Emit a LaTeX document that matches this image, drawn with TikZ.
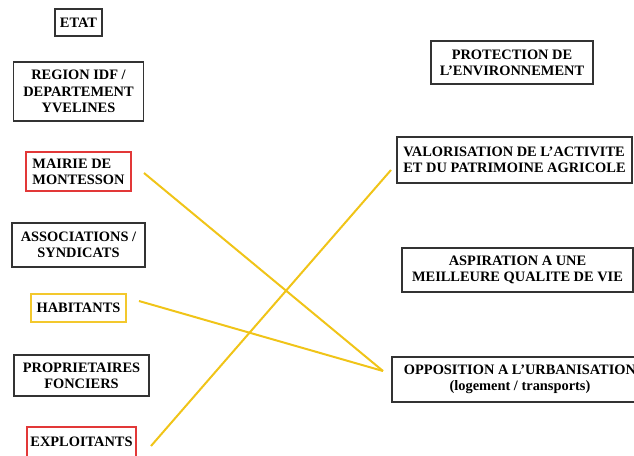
\documentclass[tikz,border=0pt]{standalone}
\usepackage{fontspec}
\setmainfont{Liberation Serif}
\usetikzlibrary{positioning}
\definecolor{boxred}{RGB}{226,56,56}
\definecolor{boxyellow}{RGB}{243,200,45}
\definecolor{linkyellow}{RGB}{240,196,24}
\begin{document}
\begin{tikzpicture}[x=1pt, y=-1pt, %
        actor/.style={draw=black!80, line width=1.5pt, inner sep=3pt, outer sep=0pt,
          font=\bfseries\fontsize{14.4}{16.3}\selectfont, align=center},
        link/.style={draw=linkyellow, line width=2pt}
        ]
        \useasboundingbox (0,0) rectangle (634,455);
        \node[actor, minimum width=47pt, minimum height=27pt] (etat) at (78.5,22.5) {ETAT};
        \node[actor, minimum width=130pt, minimum height=59pt, below = 26pt of etat] (region) {REGION IDF /\\DEPARTEMENT\\YVELINES};
        \node[actor, draw=boxred, minimum width=105pt, minimum height=39pt, align=left, below = 31pt of region] (mairie) {MAIRIE DE\\MONTESSON};
        \node[actor, minimum width=133pt, minimum height=44pt, below = 32pt of mairie] (assoc) {ASSOCIATIONS /\\SYNDICATS};
        \node[actor, draw=boxyellow, minimum width=95pt, minimum height=28pt, below = 27pt of assoc] (habitants) {HABITANTS};
        \node[actor, minimum width=135pt, minimum height=41pt, below = 33pt of habitants, xshift=3pt] (proprio) {PROPRIETAIRES\\FONCIERS};
        \node[actor, draw=boxred, minimum width=109pt, minimum height=30pt, below = 31pt of proprio] (exploit) {EXPLOITANTS};

        \node[actor, minimum width=162pt, minimum height=43pt] (protect) at (512,62.5) {PROTECTION DE\\L'ENVIRONNEMENT};
        \node[actor, minimum width=235pt, minimum height=46pt, align=left, below = 53pt of protect, xshift=2.5pt] (valor) {VALORISATION DE L'ACTIVITE\\ET DU PATRIMOINE AGRICOLE};
        \node[actor, minimum width=231pt, minimum height=44pt, below = 65pt of valor, xshift=3pt] (aspir) {ASPIRATION A UNE\\MEILLEURE QUALITE DE VIE};
        \node[actor, minimum width=256pt, minimum height=45pt, below = 65pt of aspir, xshift=2.5pt] (oppos) {OPPOSITION A L'URBANISATION\\(logement / transports)};

        \coordinate (mairie-out) at ([xshift=13pt, yshift=-1.5pt]mairie.east);
        \coordinate (habitants-out) at ([xshift=13pt, yshift=7pt]habitants.east);
        \coordinate (exploit-out) at ([xshift=15pt, yshift=-4pt]exploit.east);
        \coordinate (oppos-in) at ([xshift=-9pt, yshift=8.5pt]oppos.west);
        \coordinate (valor-in) at ([xshift=-6pt, yshift=-10pt]valor.west);
        \draw[link] (mairie-out) -- (oppos-in);
        \draw[link] (habitants-out) -- (oppos-in);
        \draw[link] (exploit-out) -- (valor-in);
      \end{tikzpicture}
\end{document}
